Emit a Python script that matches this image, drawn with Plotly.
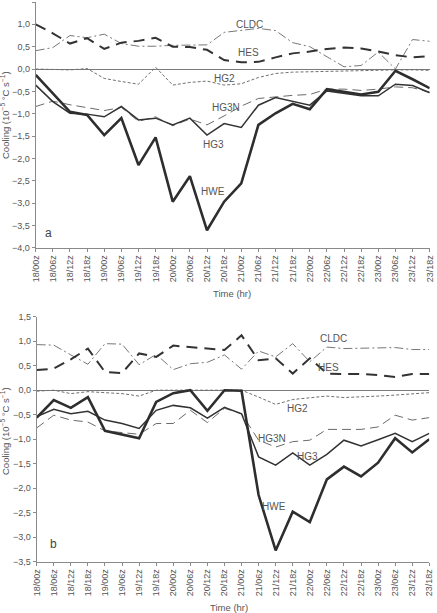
import plotly.graph_objects as go

W, H = 437, 613

times = ["18/00z", "18/06z", "18/12z", "18/18z", "19/00z", "19/06z", "19/12z", "19/18z",
         "20/00z", "20/06z", "20/12z", "20/18z", "21/00z", "21/06z", "21/12z", "21/18z",
         "22/00z", "22/06z", "22/12z", "22/18z", "23/00z", "23/06z", "23/12z", "23/18z"]

# Panel a
hwe_a = [-0.13, -0.55, -0.96, -1.03, -1.48, -1.10, -2.15, -1.53, -2.97, -2.40, -3.61, -2.97,
         -2.56, -1.25, -0.99, -0.78, -0.90, -0.45, -0.51, -0.57, -0.51, -0.04, -0.23, -0.43]
hg3_a = [-0.36, -0.73, -0.99, -1.01, -1.07, -0.84, -1.14, -1.10, -1.25, -1.10, -1.48, -1.22,
         -1.31, -0.81, -0.64, -0.72, -0.81, -0.49, -0.54, -0.60, -0.60, -0.34, -0.37, -0.53]
hg3n_a = [-0.84, -0.72, -0.80, -0.87, -0.93, -0.86, -1.17, -1.07, -1.27, -1.12, -1.25, -1.05,
          -0.83, -0.66, -0.62, -0.59, -0.57, -0.45, -0.45, -0.48, -0.45, -0.40, -0.42, -0.52]
hg2_a = [0.00, -0.01, -0.02, 0.01, -0.21, -0.28, -0.34, 0.04, -0.36, -0.30, -0.27, -0.36,
         -0.33, -0.19, -0.10, -0.07, -0.06, -0.05, -0.04, -0.04, -0.03, -0.02, -0.02, -0.03]
hes_a = [1.00, 0.80, 0.57, 0.69, 0.45, 0.59, 0.63, 0.70, 0.50, 0.49, 0.43, 0.20,
         0.15, 0.16, 0.26, 0.35, 0.39, 0.45, 0.48, 0.46, 0.39, 0.31, 0.26, 0.29]
cldc_a = [0.41, 0.48, 0.75, 0.70, 0.78, 0.57, 0.51, 0.51, 0.53, 0.54, 0.54, 0.82,
          0.86, 0.91, 0.86, 0.59, 0.50, 0.28, 0.05, 0.08, 0.38, 0.00, 0.66, 0.62]

# Panel b
hwe_b = [-0.56, -0.20, -0.36, -0.14, -0.83, -0.91, -0.98, -0.24, -0.06, 0.00, -0.42, 0.00,
         -0.01, -2.14, -3.27, -2.48, -2.69, -1.82, -1.56, -1.76, -1.48, -0.98, -1.27, -1.00]
hg3_b = [-0.54, -0.39, -0.48, -0.43, -0.61, -0.68, -0.78, -0.41, -0.31, -0.36, -0.57, -0.35,
         -0.48, -1.36, -1.53, -1.28, -1.53, -1.31, -1.02, -1.14, -1.01, -0.88, -1.05, -0.88]
hg3n_b = [-0.77, -0.51, -0.61, -0.65, -0.83, -0.87, -0.90, -0.68, -0.68, -0.41, -0.66, -0.37,
          -0.48, -1.02, -1.16, -1.05, -1.02, -0.80, -0.80, -0.80, -0.75, -0.51, -0.61, -0.56]
hg2_b = [-0.02, 0.00, -0.07, -0.03, -0.05, -0.07, -0.12, 0.00, 0.00, 0.00, 0.00, 0.00,
         0.00, -0.14, -0.29, -0.19, -0.15, -0.12, -0.15, -0.14, -0.12, -0.10, -0.08, -0.05]
hes_b = [0.41, 0.44, 0.63, 0.85, 0.37, 0.35, 0.75, 0.68, 0.91, 0.88, 0.84, 0.82,
         1.12, 0.61, 0.65, 0.34, 0.65, 0.34, 0.33, 0.33, 0.31, 0.27, 0.33, 0.33]
cldc_b = [0.93, 0.92, 0.72, 0.53, 0.95, 0.94, 0.52, 0.73, 0.42, 0.54, 0.57, 0.72,
          0.43, 0.80, 0.68, 0.95, 0.58, 0.88, 0.85, 0.86, 0.86, 0.87, 0.83, 0.83]

yticks_a = [1.5, 1.0, 0.5, 0.0, -0.5, -1.0, -1.5, -2.0, -2.5, -3.0, -3.5, -4.0]
yticks_b = [1.5, 1.0, 0.5, 0.0, -0.5, -1.0, -1.5, -2.0, -2.5, -3.0, -3.5]

xi = list(range(len(times)))
FONT = "Liberation Sans, Arial, sans-serif"
TXT = "#555555"
AX = "#8a8a8a"

styles = {
    "HWE": dict(color="#2e2e2e", width=2.6, dash="solid"),
    "HG3": dict(color="#333333", width=1.5, dash="solid"),
    "HG3N": dict(color="#6a6a6a", width=1.0, dash="9px,5px"),
    "HG2": dict(color="#6f6f6f", width=1.0, dash="3px,2px"),
    "HES": dict(color="#333333", width=2.0, dash="11px,7px"),
    "CLDC": dict(color="#777777", width=1.0, dash="9px,3px,2px,3px"),
}

fig = go.Figure()
panels = [
    ("x", "y", {"HWE": hwe_a, "HG3": hg3_a, "HG3N": hg3n_a, "HG2": hg2_a, "HES": hes_a, "CLDC": cldc_a}),
    ("x2", "y2", {"HWE": hwe_b, "HG3": hg3_b, "HG3N": hg3n_b, "HG2": hg2_b, "HES": hes_b, "CLDC": cldc_b}),
]
for xa, ya, series in panels:
    for name in ["CLDC", "HES", "HG2", "HG3N", "HG3", "HWE"]:
        fig.add_trace(go.Scatter(x=xi, y=series[name], mode="lines", name=name,
                                 line=styles[name], xaxis=xa, yaxis=ya, showlegend=False))

def xdom(l, r):
    return [l / W, r / W]

def ydom(top, bot):
    return [1 - bot / H, 1 - top / H]

common_x = dict(tickmode="array", tickvals=xi, ticktext=times, tickangle=-90,
                showline=True, linecolor=AX, linewidth=1, ticks="outside", ticklen=3,
                tickcolor=AX, showgrid=False, zeroline=False,
                tickfont=dict(family=FONT, size=9, color=TXT), range=[0, 23], automargin=False)
common_y = dict(showline=True, linecolor=AX, linewidth=1, ticks="outside", ticklen=3,
                tickcolor=AX, showgrid=False, zeroline=True, zerolinecolor="#7a7a7a",
                zerolinewidth=1.2, tickformat=".1f",
                tickfont=dict(family=FONT, size=9, color=TXT), automargin=False)

fig.update_layout(
    width=W, height=H, margin=dict(l=0, r=0, t=0, b=0),
    paper_bgcolor="white", plot_bgcolor="white", separators=", ",
    font=dict(family=FONT, color=TXT),
    xaxis=dict(domain=xdom(35.7, 429.7), anchor="y", **common_x),
    yaxis=dict(domain=ydom(2, 247.7), anchor="x", range=[-4.0, 1.5], tickvals=yticks_a, **common_y),
    xaxis2=dict(domain=xdom(36.7, 429.3), anchor="y2", **common_x),
    yaxis2=dict(domain=ydom(316.7, 561.7), anchor="x2", range=[-3.5, 1.5], tickvals=yticks_b, **common_y),
)

labels_a = [("CLDC", 12.5, 1.00), ("HES", 12.45, 0.38), ("HG2", 11.0, -0.22),
            ("HG3N", 11.1, -0.87), ("HG3", 10.35, -1.70), ("HWE", 10.35, -2.75)]
labels_b = [("CLDC", 17.36, 1.06), ("HES", 17.12, 0.47), ("HG2", 15.25, -0.37),
            ("HG3N", 13.78, -0.98), ("HG3", 15.89, -1.35), ("HWE", 13.9, -2.37)]
ann = []
for t, x, y in labels_a:
    ann.append(dict(text=t, x=x, y=y, xref="x", yref="y", showarrow=False,
                    font=dict(family=FONT, size=10, color=TXT)))
for t, x, y in labels_b:
    ann.append(dict(text=t, x=x, y=y, xref="x2", yref="y2", showarrow=False,
                    font=dict(family=FONT, size=10, color=TXT)))
ann.append(dict(text="a", x=0.72, y=-3.67, xref="x", yref="y", showarrow=False,
                font=dict(family=FONT, size=12, color="#444444")))
ann.append(dict(text="b", x=1.01, y=-3.14, xref="x2", yref="y2", showarrow=False,
                font=dict(family=FONT, size=12, color="#444444")))

ytitle = "Cooling (10<sup>−5</sup> °C s<sup>−1</sup>)"
for cx, cy in [(5, 115), (5, 431)]:
    ann.append(dict(text=ytitle, x=cx / W, y=1 - cy / H, xref="paper", yref="paper",
                    showarrow=False, textangle=-90, xanchor="center", yanchor="middle",
                    font=dict(family=FONT, size=9.5, color=TXT)))
for cx, cy in [(232, 293), (229, 607)]:
    ann.append(dict(text="Time (hr)", x=cx / W, y=1 - cy / H, xref="paper", yref="paper",
                    showarrow=False, xanchor="center", yanchor="middle",
                    font=dict(family=FONT, size=9.5, color=TXT)))
fig.update_layout(annotations=ann)

fig.write_html("out.html")
